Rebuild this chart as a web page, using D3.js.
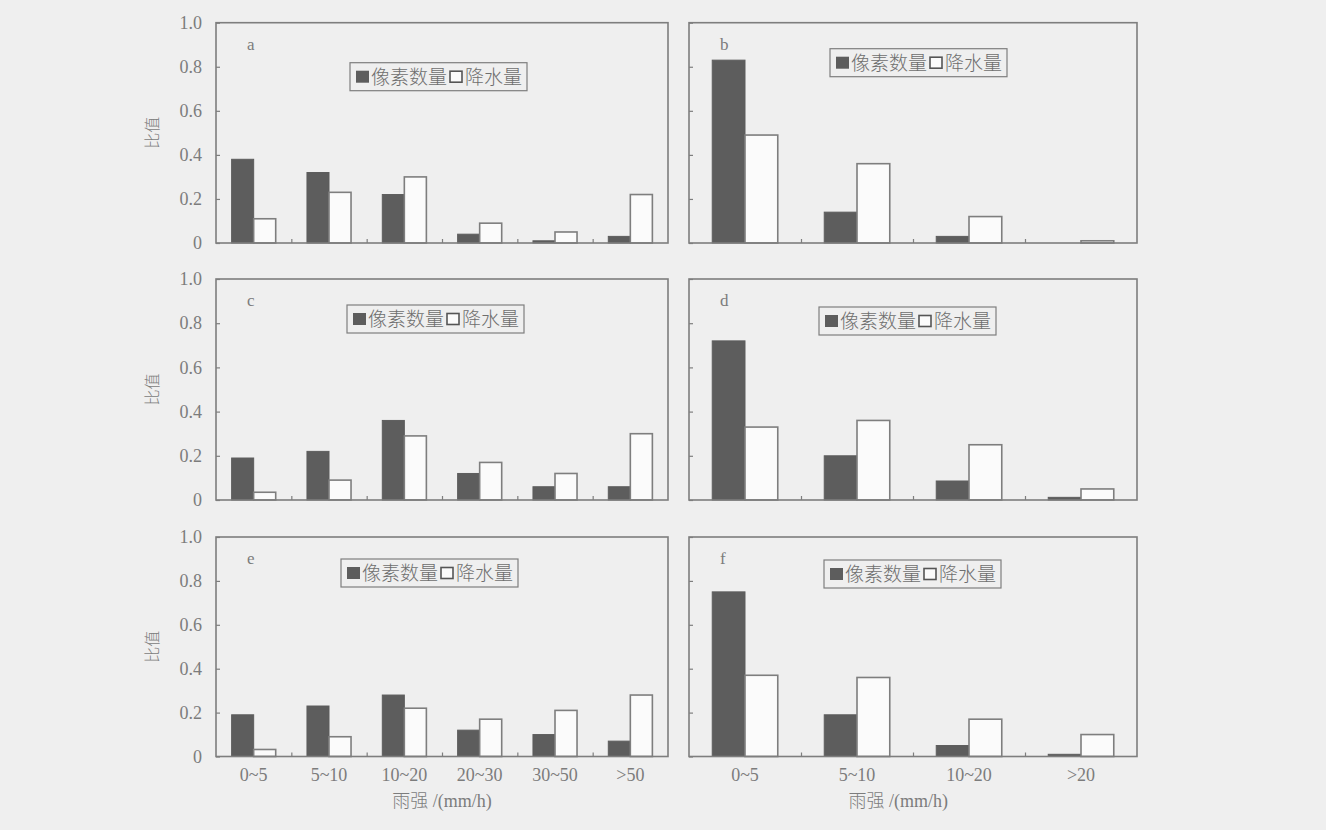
<!DOCTYPE html>
<html>
<head>
<meta charset="utf-8">
<script src="https://cdn.jsdelivr.net/npm/d3@7"></script>
<style>
  html, body { margin: 0; padding: 0; background: #efefef; }
  svg { display: block; }
</style>
</head>
<body>
<svg id="chart" width="1326" height="830"></svg>
<script>
// Rain-intensity classes
const catsSix = ["0~5", "5~10", "10~20", "20~30", "30~50", ">50"];
const catsFour = ["0~5", "5~10", "10~20", ">20"];

// Ratio of pixel count (像素数量) and of rainfall (降水量) per class, panels a–f
const pixelA = [0.38, 0.32, 0.22, 0.04, 0.01, 0.03];
const rainA  = [0.11, 0.23, 0.30, 0.09, 0.05, 0.22];
const pixelB = [0.83, 0.14, 0.03, 0.00];
const rainB  = [0.49, 0.36, 0.12, 0.01];
const pixelC = [0.19, 0.22, 0.36, 0.12, 0.06, 0.06];
const rainC  = [0.035, 0.09, 0.29, 0.17, 0.12, 0.30];
const pixelD = [0.72, 0.20, 0.086, 0.012];
const rainD  = [0.33, 0.36, 0.25, 0.05];
const pixelE = [0.19, 0.23, 0.28, 0.12, 0.10, 0.07];
const rainE  = [0.032, 0.09, 0.22, 0.17, 0.21, 0.28];
const pixelF = [0.75, 0.19, 0.05, 0.01];
const rainF  = [0.37, 0.36, 0.17, 0.10];

const yTickValues = [0, 0.2, 0.4, 0.6, 0.8, 1.0];
const yTickLabels = ["0", "0.2", "0.4", "0.6", "0.8", "1.0"];
const panelLetters = ["a", "b", "c", "d", "e", "f"];
const seriesNames = ["像素数量", "降水量"];
const yTitle = "比值";
const xTitleCJK = "雨强";
const xTitleUnit = " /(mm/h)";

// Panel table built from the arrays above
const panels = [
  { letter: panelLetters[0], cats: catsSix,  pixel: pixelA, rain: rainA },
  { letter: panelLetters[1], cats: catsFour, pixel: pixelB, rain: rainB },
  { letter: panelLetters[2], cats: catsSix,  pixel: pixelC, rain: rainC },
  { letter: panelLetters[3], cats: catsFour, pixel: pixelD, rain: rainD },
  { letter: panelLetters[4], cats: catsSix,  pixel: pixelE, rain: rainE },
  { letter: panelLetters[5], cats: catsFour, pixel: pixelF, rain: rainF }
];

// Layout
const cols = [[216, 668], [689, 1137]];
const rows = [[22.7, 243], [279, 500], [537, 756.5]];
const legendOffsets = [[134, 40], [141, 26], [131, 26], [130, 28], [125, 22], [135, 23]];

const INK = "#7e7e7e";
const TEXT = "#7c7c7c";
const DARK = "#5d5d5d";
const SERIF = "'Liberation Serif', 'Times New Roman', serif";
const CJK = "'Noto Sans CJK SC', 'Noto Sans CJK JP', sans-serif";

const svg = d3.select("#chart");

panels.forEach((p, i) => {
  const col = i % 2, row = Math.floor(i / 2);
  const [x0, x1] = cols[col];
  const [y0, y1] = rows[row];
  const n = p.cats.length;

  const y = d3.scaleLinear().domain([0, 1]).range([y1, y0]);
  const x = d3.scaleBand().domain(p.cats).range([x0, x1])
    .paddingInner(0.415).paddingOuter(0.2075);
  const xs = d3.scaleBand().domain(["pixel", "rain"]).range([0, x.bandwidth()]);
  const xEdge = d3.scaleLinear().domain([0, n]).range([x0, x1]);

  const g = svg.append("g");

  // Bars
  const rowsData = p.cats.map((c, k) => ({ cat: c, pixel: p.pixel[k], rain: p.rain[k] }));
  const grp = g.selectAll("g.cat").data(rowsData).enter().append("g")
    .attr("transform", d => `translate(${x(d.cat)},0)`);
  grp.append("rect")
    .attr("x", xs("pixel")).attr("width", xs.bandwidth())
    .attr("y", d => y(d.pixel)).attr("height", d => y(0) - y(d.pixel))
    .attr("fill", DARK).attr("stroke", DARK).attr("stroke-width", 1);
  grp.append("rect")
    .attr("x", xs("rain")).attr("width", xs.bandwidth())
    .attr("y", d => y(d.rain)).attr("height", d => y(0) - y(d.rain))
    .attr("fill", "#fbfbfb").attr("stroke", INK).attr("stroke-width", 1.6);

  // Frame
  g.append("rect")
    .attr("x", x0).attr("y", y0).attr("width", x1 - x0).attr("height", y1 - y0)
    .attr("fill", "none").attr("stroke", INK).attr("stroke-width", 1.6);

  // Y axis (inside ticks); labels only on the left column
  const yAxis = d3.axisLeft(y).tickValues(yTickValues)
    .tickSizeInner(-4).tickSizeOuter(0).tickPadding(14)
    .tickFormat((d, k) => col === 0 ? yTickLabels[k] : "");
  const ya = g.append("g").attr("transform", `translate(${x0},0)`).call(yAxis);
  ya.select(".domain").remove();
  ya.selectAll("line").attr("stroke", INK).attr("stroke-width", 1.2);
  ya.selectAll("text").attr("fill", TEXT).style("font-family", SERIF).style("font-size", "18px");

  // Class boundary ticks along the bottom
  const xb = g.append("g").attr("transform", `translate(0,${y1})`)
    .call(d3.axisBottom(xEdge).tickValues(d3.range(1, n)).tickSize(-4).tickFormat(""));
  xb.select(".domain").remove();
  xb.selectAll("line").attr("stroke", INK).attr("stroke-width", 1.2);

  // Category labels and x title on the bottom row
  if (row === 2) {
    const xl = g.append("g").attr("transform", `translate(0,${y1})`)
      .call(d3.axisBottom(x).tickSize(0).tickPadding(12));
    xl.select(".domain").remove();
    xl.selectAll("text").attr("fill", TEXT).style("font-family", SERIF).style("font-size", "18px");

    const tx = col === 0 ? (x0 + x1) / 2 : x0 + (x1 - x0) * 0.467;
    const t = g.append("text").attr("x", tx).attr("y", 807)
      .attr("text-anchor", "middle").attr("fill", TEXT).style("font-size", "18px");
    t.append("tspan").style("font-family", CJK).style("font-weight", 300).text(xTitleCJK);
    t.append("tspan").style("font-family", SERIF).text(xTitleUnit);
  }

  // Y title on the left column
  if (col === 0) {
    g.append("text")
      .attr("transform", `translate(158,${(y0 + y1) / 2}) rotate(-90)`)
      .attr("text-anchor", "middle").attr("fill", TEXT)
      .style("font-family", CJK).style("font-weight", 300)
      .style("font-size", "16px").text(yTitle);
  }

  // Panel letter
  g.append("text").attr("x", x0 + 31).attr("y", y0 + 27)
    .attr("fill", TEXT).style("font-family", SERIF).style("font-size", "17px")
    .text(p.letter);

  // Legend
  const [lx, ly] = legendOffsets[i];
  const lg = g.append("g").attr("transform", `translate(${x0 + lx},${y0 + ly})`);
  lg.append("rect").attr("width", 177).attr("height", 28)
    .attr("fill", "none").attr("stroke", INK).attr("stroke-width", 1.2);
  lg.append("rect").attr("x", 6).attr("y", 8).attr("width", 13).attr("height", 12)
    .attr("fill", DARK);
  lg.append("text").attr("x", 21).attr("y", 21)
    .attr("fill", "#6e6e6e").style("font-family", CJK).style("font-weight", 300)
    .style("font-size", "19px").text(seriesNames[0]);
  lg.append("rect").attr("x", 100).attr("y", 8.5).attr("width", 12).attr("height", 11)
    .attr("fill", "#fbfbfb").attr("stroke", "#555").attr("stroke-width", 1.6);
  lg.append("text").attr("x", 115).attr("y", 21)
    .attr("fill", "#6e6e6e").style("font-family", CJK).style("font-weight", 300)
    .style("font-size", "19px").text(seriesNames[1]);
});
</script>
</body>
</html>
